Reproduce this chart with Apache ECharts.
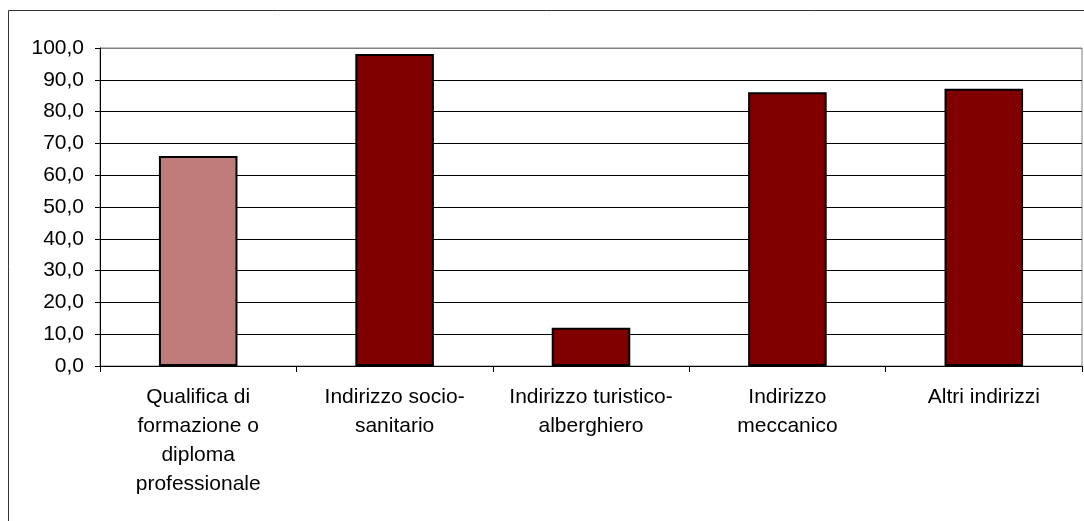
<!DOCTYPE html>
<html>
<head>
<meta charset="utf-8">
<script src="https://cdn.jsdelivr.net/npm/echarts@6/dist/echarts.min.js"></script>
<style>
html,body{margin:0;padding:0;background:#fff;}
#c{width:1084px;height:521px;}
</style>
</head>
<body>
<div id="c"></div>
<script>
var categories = [
  "Qualifica di\nformazione o\ndiploma\nprofessionale",
  "Indirizzo socio-\nsanitario",
  "Indirizzo turistico-\nalberghiero",
  "Indirizzo\nmeccanico",
  "Altri indirizzi"
];
var values = [66.0, 98.1, 12.0, 86.1, 87.2];
var barColors = ["#C07B7B", "#800000", "#800000", "#800000", "#800000"];
var yMin = 0, yMax = 100, yStep = 10;

var chart = echarts.init(document.getElementById('c'), null, {renderer: 'canvas'});
var font = 'Arial, "Liberation Sans", sans-serif';
var gridColors = [];
for (var i = 0; i < 10; i++) gridColors.push('#000000');
gridColors.push('#808080');

chart.setOption({
  animation: false,
  backgroundColor: '#ffffff',
  graphic: [{
    type: 'rect',
    shape: {x: 8.5, y: 10.5, width: 1200, height: 700},
    style: {fill: 'none', stroke: '#333333', lineWidth: 1},
    silent: true
  }],
  grid: {
    left: 100, right: 2, top: 48, bottom: 155,
    show: true, borderColor: '#808080', borderWidth: 1, backgroundColor: 'transparent'
  },
  xAxis: {
    type: 'category',
    data: categories,
    axisLine: {lineStyle: {color: '#000', width: 1}},
    axisTick: {show: true, length: 6, interval: 0, alignWithLabel: false, lineStyle: {color: '#000'}},
    axisLabel: {
      interval: 0, color: '#000', fontFamily: font, fontSize: 21,
      lineHeight: 29, margin: 17
    },
    splitLine: {show: false}
  },
  yAxis: {
    type: 'value',
    min: yMin, max: yMax, interval: yStep,
    axisLine: {show: true, lineStyle: {color: '#000', width: 1}},
    axisTick: {show: true, length: 5, lineStyle: {color: '#000'}},
    axisLabel: {
      color: '#000', fontFamily: font, fontSize: 21, margin: 16,
      formatter: function (v) { return v.toFixed(1).replace('.', ','); }
    },
    splitLine: {show: true, lineStyle: {color: gridColors, width: 1}}
  },
  series: [{
    type: 'bar',
    data: values.map(function (v, i) {
      return {value: v, itemStyle: {color: barColors[i]}};
    }),
    barWidth: '40%',
    itemStyle: {borderColor: '#000', borderWidth: 2},
    label: {show: false}
  }]
});
</script>
</body>
</html>
